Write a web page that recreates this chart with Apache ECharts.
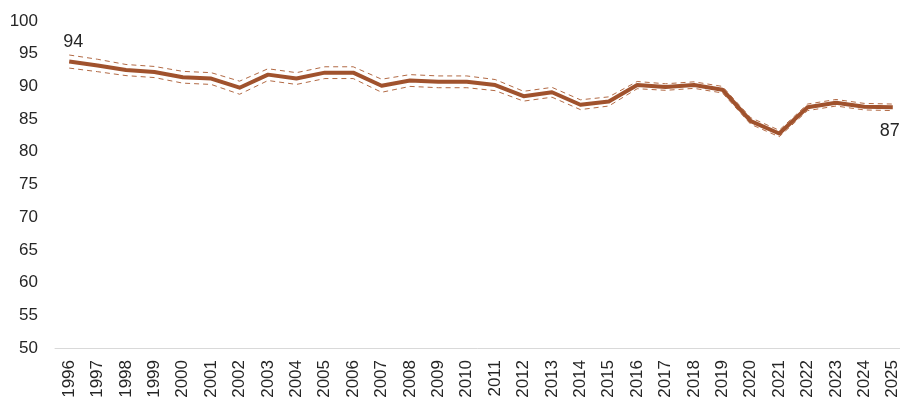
<!DOCTYPE html>
<html>
<head>
<meta charset="utf-8">
<script src="https://cdn.jsdelivr.net/npm/echarts@6/dist/echarts.min.js"></script>
<style>
html,body{margin:0;padding:0;background:#fff;}
#c{width:900px;height:401px;}
</style>
</head>
<body>
<div id="c"></div>
<script>
var years = ['1996','1997','1998','1999','2000','2001','2002','2003','2004','2005','2006','2007','2008','2009','2010','2011','2012','2013','2014','2015','2016','2017','2018','2019','2020','2021','2022','2023','2024','2025'];
var mainValues = [93.8,93.2,92.5,92.2,91.4,91.2,89.8,91.8,91.2,92.1,92.1,90.1,90.9,90.7,90.7,90.2,88.5,89.1,87.2,87.7,90.2,89.9,90.2,89.5,84.7,82.8,86.8,87.5,86.9,86.8];
var upperValues = [94.8,94.15,93.35,93.05,92.3,92.1,90.8,92.7,92.1,93.0,93.0,91.1,91.8,91.6,91.6,91.05,89.25,89.85,87.95,88.4,90.75,90.4,90.7,90.0,85.2,83.3,87.3,88.0,87.4,87.3];
var lowerValues = [92.8,92.25,91.65,91.35,90.5,90.3,88.8,90.9,90.3,91.2,91.2,89.1,90.0,89.8,89.8,89.35,87.75,88.35,86.45,87.0,89.65,89.4,89.7,89.0,84.2,82.3,86.3,87.0,86.4,86.3];
var yTicks = {min: 50, max: 100, interval: 5};

var textColor = '#262626';
var lineColor = '#A0522D';
var fontFam = 'Liberation Sans, Arial, sans-serif';

var mainData = mainValues.map(function (v, i) {
  if (i === 0) {
    return {value: v, label: {show: true, position: 'top', distance: 10, offset: [4, 0], formatter: String(Math.round(v))}};
  }
  if (i === mainValues.length - 1) {
    return {value: v, label: {show: true, position: 'bottom', distance: 14, offset: [-3, 0], formatter: String(Math.round(v))}};
  }
  return v;
});

var chart = echarts.init(document.getElementById('c'), null, {renderer: 'canvas'});
chart.setOption({
  animation: false,
  backgroundColor: '#ffffff',
  textStyle: {fontFamily: fontFam},
  grid: {left: 55, right: -7, top: 21, bottom: 53, containLabel: false, outerBoundsMode: 'none'},
  xAxis: {
    type: 'category',
    data: years,
    boundaryGap: true,
    axisLine: {show: true, lineStyle: {color: '#d9d9d9', width: 1}},
    axisTick: {show: false},
    axisLabel: {rotate: 90, interval: 0, margin: 12, fontSize: 17, color: textColor, fontFamily: fontFam},
    splitLine: {show: false}
  },
  yAxis: {
    type: 'value',
    min: yTicks.min,
    max: yTicks.max,
    interval: yTicks.interval,
    axisLine: {show: false},
    axisTick: {show: false},
    splitLine: {show: false},
    axisLabel: {margin: 17, fontSize: 17, color: textColor, fontFamily: fontFam}
  },
  series: [
    {
      name: 'upper', type: 'line', data: upperValues, symbol: 'none', silent: true,
      lineStyle: {color: '#B26A45', width: 1, type: [5, 4]}, z: 2
    },
    {
      name: 'lower', type: 'line', data: lowerValues, symbol: 'none', silent: true,
      lineStyle: {color: '#B26A45', width: 1, type: [5, 4]}, z: 2
    },
    {
      name: 'main', type: 'line', data: mainData,
      symbol: 'circle', symbolSize: 1, showSymbol: true, showAllSymbol: true,
      itemStyle: {color: 'rgba(0,0,0,0)'},
      lineStyle: {color: lineColor, width: 4, join: 'round'}, z: 3,
      label: {show: false, fontSize: 18, color: textColor, fontFamily: fontFam}
    }
  ]
});
</script>
</body>
</html>
